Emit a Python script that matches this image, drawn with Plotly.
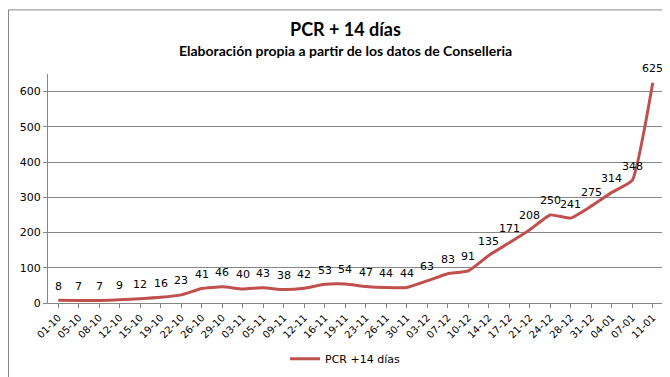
import plotly.graph_objects as go

fechas = ["01-10", "05-10", "08-10", "12-10", "15-10", "19-10", "22-10", "26-10", "29-10", "03-11",
          "05-11", "09-11", "12-11", "16-11", "19-11", "23-11", "26-11", "30-11", "03-12", "07-12",
          "10-12", "14-12", "17-12", "21-12", "24-12", "28-12", "31-12", "04-01", "07-01", "11-01"]
pcr14 = [8, 7, 7, 9, 12, 16, 23, 41, 46, 40, 43, 38, 42, 53, 54, 47, 44, 44, 63, 83,
         91, 135, 171, 208, 250, 241, 275, 314, 348, 625]

W, H = 670, 377
L, R, T, B = 40, 15, 66, 77
pw, ph = W - L - R, H - T - B

fig = go.Figure()
fig.add_trace(go.Scatter(
    x=fechas, y=pcr14, mode="lines", name="PCR +14 días",
    line=dict(color="#C0504D", width=3, shape="spline", smoothing=0.4),
))

labels = [dict(x=f, y=v, text=str(v), xref="x", yref="y", showarrow=False,
               yshift=14, xanchor="center", yanchor="middle",
               font=dict(family="DejaVu Sans", size=11, color="#000000"))
          for f, v in zip(fechas, pcr14)]

titles = [
    dict(text="<b>PCR + 14 días</b>", xref="paper", yref="paper",
         x=(337 - L) / pw, y=1 + (T - 20) / ph, xanchor="center", yanchor="middle",
         showarrow=False, font=dict(family="Lato", size=18, color="#000000")),
    dict(text="<b>Elaboración propia a partir de los datos de Conselleria</b>", xref="paper", yref="paper",
         x=(337 - L) / pw, y=1 + (T - 42) / ph, xanchor="center", yanchor="middle",
         showarrow=False, font=dict(family="Lato", size=14, color="#000000")),
]

fig.update_layout(
    width=W, height=H,
    margin=dict(l=L, r=R, t=T, b=B),
    paper_bgcolor="white", plot_bgcolor="white",
    showlegend=True,
    legend=dict(orientation="h", x=0.483, xanchor="center", y=-57 / ph, yanchor="middle",
                font=dict(family="DejaVu Sans", size=11, color="#000000"),
                itemwidth=30),
    xaxis=dict(type="category", tickangle=-45, showgrid=False,
               showline=True, linecolor="#868686", linewidth=1,
               ticks="outside", ticklen=4, tickcolor="#868686",
               tickfont=dict(family="DejaVu Sans", size=10, color="#000000"),
               range=[-0.5, len(fechas) - 0.5]),
    yaxis=dict(range=[0, 650], tickvals=[0, 100, 200, 300, 400, 500, 600],
               showgrid=True, gridcolor="#868686", gridwidth=1,
               showline=True, linecolor="#868686", linewidth=1,
               ticks="outside", ticklen=4, tickcolor="#868686",
               zeroline=False,
               tickfont=dict(family="DejaVu Sans", size=11, color="#000000")),
    annotations=titles + labels,
    shapes=[dict(type="rect", xref="paper", yref="paper",
                 x0=-(L - 0.5) / pw, x1=1 + (R - 0.5) / pw,
                 y0=-(B - 0.5) / ph, y1=1 + (T - 0.5) / ph,
                 line=dict(color="#868686", width=1), layer="below")],
)

fig.write_html("out.html")
